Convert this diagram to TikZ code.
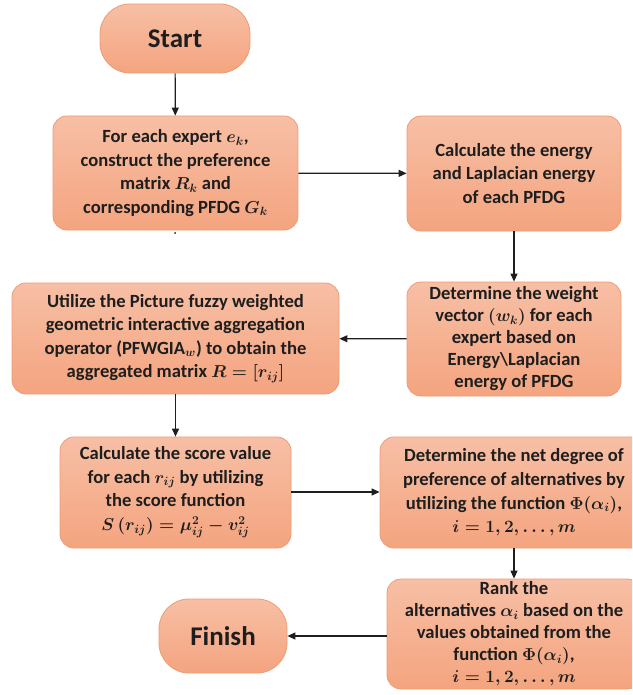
\documentclass[tikz,border=0pt]{standalone}
\usepackage[no-math]{fontspec}
\setmainfont{Carlito}
\usetikzlibrary{arrows.meta}
\definecolor{boxtop}{HTML}{F7BFA5}
\definecolor{boxbot}{HTML}{F4A47F}
\definecolor{boxline}{HTML}{EE9C74}
\definecolor{ink}{HTML}{1E1E1E}
\begin{document}
\begin{tikzpicture}[x=1pt,y=-1pt,
  stepbox/.style={draw=boxline, line width=0.8pt, top color=boxtop, bottom color=boxbot,
    rounded corners=14pt, align=center, inner sep=0pt, text=ink,
    font=\fontsize{18.6}{23.6}\selectfont\bfseries\boldmath},
  tightbox/.style={stepbox, font=\fontsize{18.6}{22}\selectfont\bfseries\boldmath},
  terminal/.style={stepbox, rounded corners=30pt, font=\fontsize{27}{30}\selectfont\bfseries},
  flow/.style={-{Triangle[length=8pt,width=7pt]}, line width=1.2pt, draw=ink}]
\useasboundingbox (0,0) rectangle (632,695);
\clip (0,0) rectangle (632,695);

% terminals
\node[terminal, minimum width=150pt, minimum height=69pt] (start) at (175,38.5) {Start};
\node[terminal, minimum width=128pt, minimum height=74pt] (finish) at (223,636) {Finish};

% process steps
\node[stepbox, minimum width=245pt, minimum height=114pt] (b1) at (175.5,173)
  {For each expert $e_k$,\\construct the preference\\matrix $R_k$ and\\corresponding PFDG $G_k$};
\node[stepbox, minimum width=214pt, minimum height=115pt] (b2) at (514,173.5)
  {Calculate the energy\\and Laplacian energy\\of each PFDG};
\node[tightbox, minimum width=214pt, minimum height=114pt] (b3) at (514,339)
  {Determine the weight\\vector $(w_k)$ for each\\expert based on\\Energy\textbackslash Laplacian\\energy of PFDG};
\node[stepbox, minimum width=327pt, minimum height=111pt] (b4) at (175.5,338.5)
  {Utilize the Picture fuzzy weighted\\geometric interactive aggregation\\operator (PFWGIA$_w$) to obtain the\\aggregated matrix $R=[r_{ij}]$};
\node[stepbox, minimum width=231pt, minimum height=111pt] (b5) at (175.5,492.5)
  {Calculate the score value\\for each $r_{ij}$ by utilizing\\the score function\\$S\left(r_{ij}\right)=\mu_{ij}^2-v_{ij}^2$};
\node[stepbox, minimum width=268pt, minimum height=111pt] (b6) at (514,492.5)
  {Determine the net degree of\\preference of alternatives by\\utilizing the function $\Phi(\alpha_i)$,\\$i=1,2,\dots,m$};
\node[tightbox, minimum width=254pt, minimum height=110pt] (b7) at (514,634)
  {Rank the\\alternatives $\alpha_i$ based on the\\values obtained from the\\function $\Phi(\alpha_i)$,\\$i=1,2,\dots,m$};

% stray mark under the first step
\fill[ink] (175,233) circle (1pt);

% connectors
\draw[flow] (start) -- (b1);
\draw[flow] (b1) -- (b2);
\draw[flow] (b2) -- (b3);
\draw[flow] (b3) -- (b4);
\draw[flow] (b4) -- (b5);
\draw[flow] (b5.east |- 0,492) -- (b6.west |- 0,492);
\draw[flow] (b6) -- (b7);
\draw[flow] (b7.west |- 0,636) -- (finish.east |- 0,636);
\end{tikzpicture}
\end{document}
